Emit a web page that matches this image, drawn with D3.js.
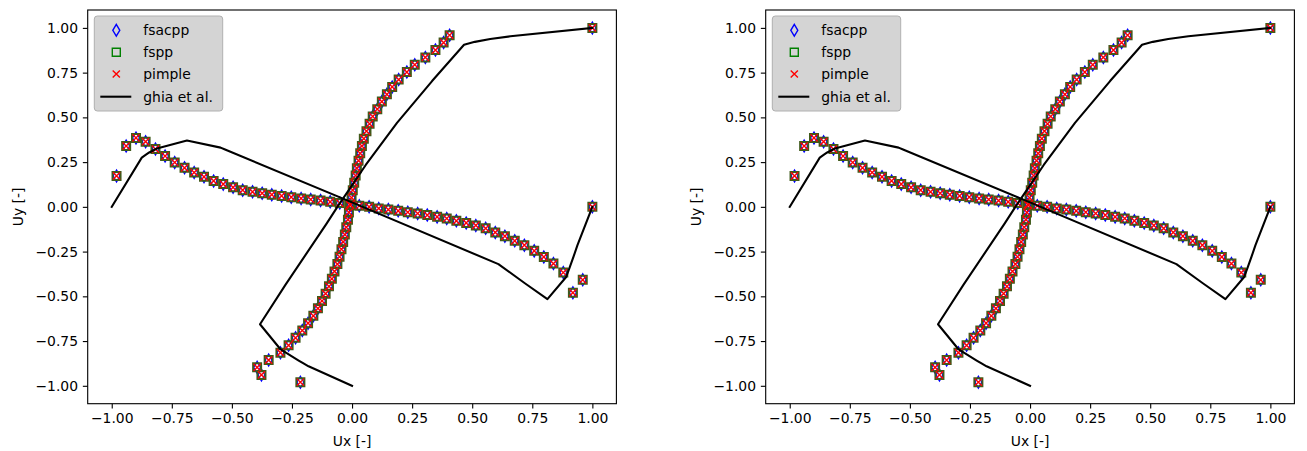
<!DOCTYPE html>
<html><head><meta charset="utf-8">
<script src="https://cdn.jsdelivr.net/npm/d3@7"></script>
<style>
body{margin:0;background:#fff}
svg{display:block}
text{font-family:"DejaVu Sans",sans-serif;fill:#000}
</style>
</head><body>
<svg id="c" width="1307" height="451"></svg>
<script>
// ---- data ----
// vertical centre line: position (mapped to [-1,1]) and Ux
const vertY = [-0.98,-0.939,-0.897,-0.856,-0.815,-0.774,-0.732,-0.691,-0.65,-0.609,-0.567,-0.526,-0.485,-0.444,-0.402,-0.361,-0.32,-0.279,-0.237,-0.196,-0.155,-0.114,-0.072,-0.031,0.01,0.051,0.093,0.134,0.175,0.216,0.258,0.299,0.34,0.381,0.423,0.464,0.505,0.546,0.588,0.629,0.67,0.711,0.753,0.794,0.835,0.876,0.918,0.959,1.0];
const vertUx = [-0.215,-0.377,-0.395,-0.347,-0.298,-0.264,-0.235,-0.207,-0.183,-0.161,-0.142,-0.125,-0.110,-0.096,-0.084,-0.073,-0.061,-0.052,-0.044,-0.037,-0.030,-0.024,-0.017,-0.013,-0.007,-0.002,0.003,0.009,0.015,0.020,0.027,0.034,0.041,0.049,0.060,0.073,0.086,0.105,0.124,0.145,0.167,0.194,0.228,0.261,0.305,0.347,0.381,0.406,1.0];
// horizontal centre line: position (mapped to [-1,1]) and Uy
const horzX = [-0.98,-0.94,-0.899,-0.859,-0.818,-0.778,-0.738,-0.697,-0.657,-0.616,-0.576,-0.536,-0.495,-0.455,-0.414,-0.374,-0.334,-0.293,-0.253,-0.212,-0.172,-0.131,-0.091,-0.051,-0.01,0.03,0.071,0.111,0.151,0.192,0.232,0.273,0.313,0.354,0.394,0.434,0.475,0.515,0.556,0.596,0.636,0.677,0.717,0.758,0.798,0.838,0.879,0.919,0.96,1.0];
const horzUy = [0.173,0.340,0.385,0.364,0.323,0.284,0.248,0.218,0.192,0.168,0.145,0.127,0.109,0.093,0.084,0.076,0.068,0.061,0.054,0.047,0.041,0.035,0.028,0.021,0.013,0.006,0.000,-0.009,-0.015,-0.022,-0.030,-0.037,-0.046,-0.056,-0.065,-0.078,-0.090,-0.104,-0.120,-0.143,-0.164,-0.190,-0.214,-0.246,-0.280,-0.317,-0.367,-0.480,-0.408,0.0];
// Ghia et al. reference
const ghiaVY  = [1.0,0.953,0.938,0.922,0.906,0.703,0.469,0.234,0.0,-0.094,-0.437,-0.656,-0.797,-0.859,-0.875,-0.891,-1.0];
const ghiaVUx = [1.0,0.659,0.575,0.511,0.466,0.333,0.187,0.057,-0.061,-0.106,-0.278,-0.383,-0.297,-0.222,-0.202,-0.181,0.0];
const ghiaHX  = [1.0,0.938,0.922,0.906,0.891,0.813,0.719,0.609,0.0,-0.531,-0.547,-0.687,-0.812,-0.844,-0.859,-0.875,-1.0];
const ghiaHUy = [0.0,-0.214,-0.277,-0.337,-0.392,-0.516,-0.427,-0.320,0.025,0.322,0.331,0.371,0.326,0.304,0.290,0.275,0.0];
const tickValues = [-1.0,-0.75,-0.5,-0.25,0.0,0.25,0.5,0.75,1.0];
const seriesNames = ["fsacpp","fspp","pimple"];
const seriesColors = ["#0000ff","#008000","#ff0000"];
const seriesShapes = ["thin_diamond","square","x"];
const refName = "ghia et al.";
const xLabel = "Ux [-]", yLabel = "Uy [-]";

// ---- drawing ----
const svg = d3.select("#c");
const FS = 13.9;
const PT = 1.389;
const plotTop = 10, pw = 528.7, ph = 393.7;
const panelLefts = [87.7, 765.7];

function markerPath(shape){
  const p = d3.path();
  if (shape === "thin_diamond"){ const w=3.5,h=5.9; p.moveTo(0,-h);p.lineTo(w,0);p.lineTo(0,h);p.lineTo(-w,0);p.closePath(); }
  else if (shape === "square"){ const s=4.0; p.rect(-s,-s,2*s,2*s); }
  else { const s=3.6; p.moveTo(-s,-s);p.lineTo(s,s);p.moveTo(-s,s);p.lineTo(s,-s); }
  return p.toString();
}

function drawPanel(left){
  const g = svg.append("g");
  const x = d3.scaleLinear().domain([-1.1,1.1]).range([left,left+pw]);
  const y = d3.scaleLinear().domain([-1.1,1.1]).range([plotTop+ph,plotTop]);

  const pts = d3.zip(vertUx, vertY).concat(d3.zip(horzX, horzUy));
  seriesNames.forEach((name,i)=>{
    g.append("g").selectAll("path").data(pts).join("path")
      .attr("d", markerPath(seriesShapes[i]))
      .attr("transform", d=>`translate(${x(d[0])},${y(d[1])})`)
      .attr("fill","none").attr("stroke", i===1 ? "#3f5a1a" : seriesColors[i])
      .attr("stroke-width", i===1 ? 2.0 : PT)
      .attr("stroke-linejoin","miter");
  });

  const line = d3.line().x(d=>x(d[0])).y(d=>y(d[1]));
  [d3.zip(ghiaVUx, ghiaVY), d3.zip(ghiaHX, ghiaHUy)].forEach(dd=>{
    g.append("path").datum(dd).attr("d", line)
      .attr("fill","none").attr("stroke","#000").attr("stroke-width",1.5*PT)
      .attr("stroke-linejoin","round").attr("stroke-linecap","square");
  });

  // axes
  const fmt = d3.format(".2f");
  const ax = g.append("g").attr("transform",`translate(0,${plotTop+ph})`)
    .call(d3.axisBottom(x).tickValues(tickValues).tickFormat(fmt).tickSize(3.5*PT).tickPadding(3.5*PT));
  const ay = g.append("g").attr("transform",`translate(${left},0)`)
    .call(d3.axisLeft(y).tickValues(tickValues).tickFormat(fmt).tickSize(3.5*PT).tickPadding(3.5*PT));
  [ax,ay].forEach(a=>{
    a.select(".domain").remove();
    a.selectAll(".tick line").attr("stroke","#000").attr("stroke-width",0.8*PT);
    a.selectAll(".tick text").attr("font-size",FS).attr("font-family","DejaVu Sans").attr("fill","#000");
  });
  ax.selectAll(".tick text").attr("dy","0.72em");

  g.append("rect").attr("x",left).attr("y",plotTop).attr("width",pw).attr("height",ph)
    .attr("fill","none").attr("stroke","#000").attr("stroke-width",0.8*PT);

  g.append("text").attr("x",left+pw/2).attr("y",446).attr("text-anchor","middle")
    .attr("font-size",FS).text(xLabel);
  g.append("text").attr("transform",`translate(${left-65},${plotTop+ph/2}) rotate(-90)`)
    .attr("text-anchor","middle").attr("font-size",FS).text(yLabel);

  // legend
  const lg = g.append("g").attr("transform",`translate(${left+6.6},${plotTop+6})`);
  lg.append("rect").attr("width",128.4).attr("height",95).attr("rx",3)
    .attr("fill","#d4d4d4").attr("stroke","#b0b0b0").attr("stroke-width",1);
  const rowY = [14.3,36.3,58,80.7];
  seriesNames.forEach((name,i)=>{
    lg.append("path").attr("d",markerPath(seriesShapes[i]))
      .attr("transform",`translate(22,${rowY[i]})`)
      .attr("fill","none").attr("stroke",seriesColors[i]).attr("stroke-width",PT);
    lg.append("text").attr("x",49).attr("y",rowY[i]).attr("dy","0.35em").attr("font-size",FS).text(name);
  });
  lg.append("line").attr("x1",6).attr("x2",37).attr("y1",rowY[3]).attr("y2",rowY[3])
    .attr("stroke","#000").attr("stroke-width",1.5*PT);
  lg.append("text").attr("x",49).attr("y",rowY[3]).attr("dy","0.35em").attr("font-size",FS).text(refName);
}
panelLefts.forEach(drawPanel);
</script>
</body></html>
